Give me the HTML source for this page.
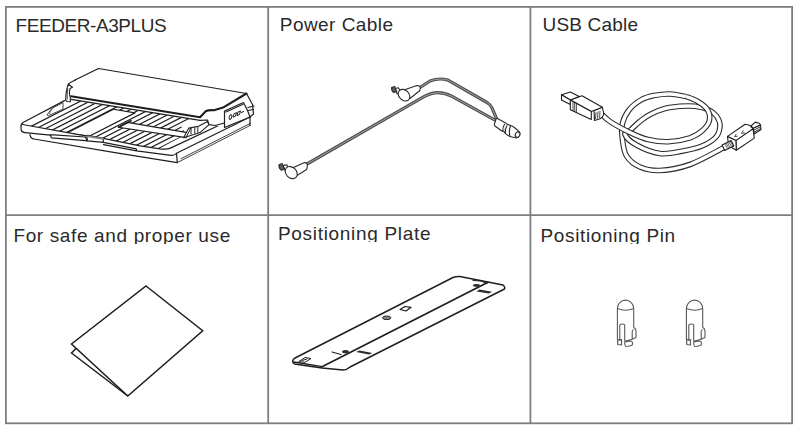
<!DOCTYPE html>
<html><head><meta charset="utf-8">
<style>
html,body{margin:0;padding:0;background:#fff;width:800px;height:430px;overflow:hidden;position:relative}
.t{position:absolute;font-family:"Liberation Sans",sans-serif;font-size:19px;line-height:19px;color:#2a2a2a;white-space:nowrap}
svg{position:absolute;left:0;top:0}
</style></head><body>
<svg width="800" height="430" viewBox="0 0 800 430">
<g fill="none" stroke="#7e7e7e" stroke-width="1.8">
<rect x="5.9" y="6.9" width="786.2" height="416.4"/>
<line x1="268.2" y1="6.9" x2="268.2" y2="423.3"/>
<line x1="530.4" y1="6.9" x2="530.4" y2="423.3"/>
<line x1="5.9" y1="215.1" x2="792.1" y2="215.1"/>
</g>
<!-- booklet -->
<g fill="none" stroke="#1e1e1e" stroke-width="1.5" stroke-linejoin="miter">
<path d="M146,286 L202.7,330.7 L127.8,396 L71.5,344 Z"/>
<path d="M76,348.5 L71.5,353 L127.8,396"/>
</g>
<!-- plate -->
<g fill="none" stroke="#1e1e1e" stroke-width="1.45" stroke-linejoin="round" stroke-linecap="round">
<path d="M453,277.5 Q456.5,276.2 460,276.5 L503,285 Q505.5,287 504.5,289 L350,367 Q347,369.8 343,370 L322,368 L294.5,364 Q292,362 293,360 Q293.8,358.5 295,358 Z"/>
<path d="M294,362 L322,366.6"/><path d="M322,366.8 L488,282.3" stroke-width="1.7"/>
<path d="M299,361.5 L305,357.5 L311,358.5 L305.5,362 Z M302,360.5 L307,359" stroke-width="1"/>
<path d="M332,352 L341,354.5" stroke-width="1.1"/>
<path d="M400,309.5 L405,306.5 L411,307.3 L406,311 Z" stroke-width="1.2"/>
<path d="M473,280.5 L481,281 L487,283.5" stroke-width="1"/>
</g>
<g fill="#2a2a2a" stroke="none">
<ellipse cx="345.5" cy="351.7" rx="3.4" ry="1.6"/>
<path d="M356.1,352 L359.5,350.4 L372.3,353 L369.2,354.4 Z"/>
<ellipse cx="476.5" cy="285.4" rx="3.4" ry="1.4"/>
<path d="M476.5,291.5 L479.5,289.6 L492,291.8 L489,293.6 Z"/>
</g>
<ellipse cx="386.7" cy="317.8" rx="4.2" ry="1.8" fill="#8a8a8a" stroke="#1e1e1e" stroke-width="1"/>
<!-- pins -->
<g fill="none" stroke="#5a5a5a" stroke-width="1.1" stroke-linejoin="round">
<path d="M617.4,339.5 L617.4,308.3 A8.15,8.15 0 0 1 633.7,308.3 L633.7,327.2"/>
<path d="M617.6,308.6 Q625.6,311.8 633.5,308.6"/>
<path d="M619.8,341 L619.8,325.5 Q619.8,324 622.2,324 Q624.7,324 624.7,325.5 L624.7,341.2"/>
<path d="M633.6,327.2 Q636,328.5 636,331 L636,337.5 L632.2,339.3 L632.2,331.5 Q632.5,330 633.6,329.5"/>
<path d="M617.6,339.5 L617.8,344.5 L621.5,345 L621.5,339.6 Z" stroke-width="1.2"/>
<path d="M624.8,342 L630.5,341 Q632.8,341.5 632.6,343.8 L632,345.3 Q628,346.8 625.5,346.3 Q624.2,344.5 624.8,342 Z M624.7,341.2 L632.2,339.3"/>
</g>
<g transform="translate(69,0)" fill="none" stroke="#5a5a5a" stroke-width="1.1" stroke-linejoin="round">
<path d="M617.4,339.5 L617.4,308.3 A8.15,8.15 0 0 1 633.7,308.3 L633.7,327.2"/>
<path d="M617.6,308.6 Q625.6,311.8 633.5,308.6"/>
<path d="M619.8,341 L619.8,325.5 Q619.8,324 622.2,324 Q624.7,324 624.7,325.5 L624.7,341.2"/>
<path d="M633.6,327.2 Q636,328.5 636,331 L636,337.5 L632.2,339.3 L632.2,331.5 Q632.5,330 633.6,329.5"/>
<path d="M617.6,339.5 L617.8,344.5 L621.5,345 L621.5,339.6 Z" stroke-width="1.2"/>
<path d="M624.8,342 L630.5,341 Q632.8,341.5 632.6,343.8 L632,345.3 Q628,346.8 625.5,346.3 Q624.2,344.5 624.8,342 Z M624.7,341.2 L632.2,339.3"/>
</g>
<!-- power cable -->
<g fill="none" stroke-linecap="round" stroke-linejoin="round">
<path d="M307,164 L424,96.7 Q438,88.7 452,96.4 L495,120.2" stroke="#505050" stroke-width="3.2"/>
<path d="M307,164 L424,96.7 Q438,88.7 452,96.4 L495,120.2" stroke="#a0a0a0" stroke-width="1"/>
<path d="M420,87.5 L430,81 Q439,77.5 448,80.1 L487,102.5 Q491,105 492,108 L496.5,118.5" stroke="#505050" stroke-width="3.2"/>
<path d="M420,87.5 L430,81 Q439,77.5 448,80.1 L487,102.5 Q491,105 492,108 L496.5,118.5" stroke="#a0a0a0" stroke-width="1"/>
</g>
<g fill="#fff" stroke="#2a2a2a" stroke-width="1.1" stroke-linejoin="round">
<!-- right connector -->
<path d="M497,118.3 L506.5,123.6 Q508,124.6 507.2,126 L504,130.8 Q503,131.8 501.8,131 L495,126 Q493.8,125 494.6,123.6 L496,119 Z"/>
<path d="M507,124.4 Q512.5,125.5 515,128 L519.5,131.8 Q520.5,136.5 516.5,138 L512,137 Q506.5,136 503.6,131"/>
<path d="M504.6,124 Q502.6,127.5 502.8,131" fill="none"/>
<path d="M507,125.5 Q505,128.5 505.3,133.5" fill="none"/>
<path d="M510.5,126 Q508.5,131 510,136.6" fill="none"/>
<ellipse cx="517.6" cy="134.6" rx="2.2" ry="2.8" transform="rotate(30 517.6 134.6)"/>
<!-- left connector -->
<path d="M293,167.8 L304.5,162.6 Q307.5,162.5 307.3,165.5 L307,168.5 Q306.5,170 305,170.5 L297,175.5 Z"/>
<path d="M283,165.6 L286.8,164.8 L289,170 L285.5,171.5 Z"/>
<path d="M279,164.8 L282.2,163.6 L284.6,169 L281.4,170.2 Q278.6,168.4 279,164.8 Z" fill="#5a5a5a"/>
<ellipse cx="291.2" cy="172.6" rx="6.8" ry="5.2" transform="rotate(45 291.2 172.6)"/>
<!-- upper connector -->
<path d="M404.5,89.8 L417,85.5 Q420.5,85.5 420.3,88.5 L420,90 Q419.6,91.5 418,92 L410,98.5 Z"/>
<path d="M395,88.5 L398.5,87.8 L400.8,92.8 L397.2,94 Z"/>
<path d="M391.6,87.4 L394.6,86.4 L396.8,91.6 L393.6,92.6 Q391.2,90.8 391.6,87.4 Z" fill="#5a5a5a"/>
<ellipse cx="404" cy="95.2" rx="6.6" ry="5" transform="rotate(45 404 95.2)"/>
</g>
<!-- usb cable -->
<g fill="none" stroke-linecap="butt" stroke-linejoin="round">
<path d="M686.0,96.5 C683.3,96.1 675.3,94.2 670.0,94.0 C664.7,93.8 658.7,94.6 654.0,95.5 C649.3,96.4 645.8,97.2 641.6,99.6 C637.4,102.0 632.2,105.9 629.0,110.0 C625.8,114.1 623.4,119.0 622.3,124.0 C621.2,129.0 621.8,134.7 622.5,140.0 C623.2,145.3 623.7,151.5 626.6,156.0 C629.5,160.5 634.4,164.6 640.0,167.0 C645.6,169.4 651.7,170.9 660.0,170.5 C668.3,170.1 679.3,168.3 690.0,164.5 C700.7,160.7 718.3,150.3 724.0,147.5" stroke="#2a2a2a" stroke-width="5.6"/><path d="M686.0,96.5 C683.3,96.1 675.3,94.2 670.0,94.0 C664.7,93.8 658.7,94.6 654.0,95.5 C649.3,96.4 645.8,97.2 641.6,99.6 C637.4,102.0 632.2,105.9 629.0,110.0 C625.8,114.1 623.4,119.0 622.3,124.0 C621.2,129.0 621.8,134.7 622.5,140.0 C623.2,145.3 623.7,151.5 626.6,156.0 C629.5,160.5 634.4,164.6 640.0,167.0 C645.6,169.4 651.7,170.9 660.0,170.5 C668.3,170.1 679.3,168.3 690.0,164.5 C700.7,160.7 718.3,150.3 724.0,147.5" stroke="#fff" stroke-width="3.4"/>
<path d="M680.0,106.3 C685.0,105.9 690.2,105.7 695.0,106.3 C699.8,106.9 705.4,108.4 709.0,110.0 C712.6,111.6 714.7,113.4 716.5,116.0 C718.3,118.6 720.1,122.0 720.0,125.5 C719.9,129.0 719.0,133.6 716.0,137.0 C713.0,140.4 707.7,143.6 702.0,146.0 C696.3,148.4 689.0,149.9 682.0,151.2 C675.0,152.4 667.6,154.5 660.0,153.5 C652.4,152.5 642.3,148.2 636.5,145.0 C630.7,141.8 625.9,137.1 625.0,134.5 C624.1,131.9 628.5,131.7 631.0,129.5 C633.5,127.3 636.8,123.8 640.0,121.3 C643.2,118.8 645.8,116.5 650.0,114.4 C654.2,112.3 660.0,109.8 665.0,108.5 C670.0,107.2 675.0,106.7 680.0,106.3Z" stroke="#2a2a2a" stroke-width="5.6"/><path d="M680.0,106.3 C685.0,105.9 690.2,105.7 695.0,106.3 C699.8,106.9 705.4,108.4 709.0,110.0 C712.6,111.6 714.7,113.4 716.5,116.0 C718.3,118.6 720.1,122.0 720.0,125.5 C719.9,129.0 719.0,133.6 716.0,137.0 C713.0,140.4 707.7,143.6 702.0,146.0 C696.3,148.4 689.0,149.9 682.0,151.2 C675.0,152.4 667.6,154.5 660.0,153.5 C652.4,152.5 642.3,148.2 636.5,145.0 C630.7,141.8 625.9,137.1 625.0,134.5 C624.1,131.9 628.5,131.7 631.0,129.5 C633.5,127.3 636.8,123.8 640.0,121.3 C643.2,118.8 645.8,116.5 650.0,114.4 C654.2,112.3 660.0,109.8 665.0,108.5 C670.0,107.2 675.0,106.7 680.0,106.3Z" stroke="#fff" stroke-width="3.4"/>
<path d="M601.0,113.5 C602.5,114.8 605.2,118.3 610.0,121.5 C614.8,124.7 623.7,129.5 630.0,132.5 C636.3,135.5 641.7,138.0 648.0,139.5 C654.3,141.0 661.0,142.0 668.0,141.8 C675.0,141.5 684.2,139.7 690.0,137.8 C695.8,135.8 699.8,133.0 703.0,130.0 C706.2,127.0 708.8,123.5 709.5,120.0 C710.2,116.5 709.1,112.2 707.0,109.0 C704.9,105.8 700.5,103.1 697.0,101.0 C693.5,98.9 687.8,97.2 686.0,96.5" stroke="#2a2a2a" stroke-width="5.6"/><path d="M601.0,113.5 C602.5,114.8 605.2,118.3 610.0,121.5 C614.8,124.7 623.7,129.5 630.0,132.5 C636.3,135.5 641.7,138.0 648.0,139.5 C654.3,141.0 661.0,142.0 668.0,141.8 C675.0,141.5 684.2,139.7 690.0,137.8 C695.8,135.8 699.8,133.0 703.0,130.0 C706.2,127.0 708.8,123.5 709.5,120.0 C710.2,116.5 709.1,112.2 707.0,109.0 C704.9,105.8 700.5,103.1 697.0,101.0 C693.5,98.9 687.8,97.2 686.0,96.5" stroke="#fff" stroke-width="3.4"/>
</g>
<g fill="#fff" stroke="#1e1e1e" stroke-width="1.1" stroke-linejoin="round">
<!-- usb A -->
<path d="M594,110.5 L602.4,107.3 L603.6,113 Q604,116.5 600,118.8 L594.5,120.5 Z"/>
<path d="M596,112.3 L595.5,119 M598,111.5 L597.5,118.6 M600,110.7 L599.6,118" fill="none" stroke-width="0.8"/>
<path d="M570.3,99.9 L582,95.7 L602.4,107.3 L591.3,111.5 Z"/>
<path d="M570.3,99.9 L570.3,109.7 L591.3,119.4 L591.3,111.5 Z"/>
<path d="M573,101.3 L573,111 M574.7,102 L574.7,111.8 M576.4,102.7 L576.4,112.6" fill="none" stroke-width="0.8"/>
<path d="M561.5,94.8 L570.3,92 L579.2,96.6 L570.3,99.9 Z"/>
<path d="M561.5,94.8 L561.5,99.9 L570.3,104.5 L570.3,99.9 Z"/>
<!-- usb B -->
<path d="M750.9,126 L755.3,122.1 L759.2,123.2 L760.5,125 L753.4,128.3 Z"/>
<path d="M753.4,128.3 L760.5,125 L761,129.5 L754.2,134 Z"/>
<path d="M753.6,130.4 L760.4,126.7 M753.9,132.3 L760.7,128.5" fill="none" stroke-width="0.9"/>
<path d="M727.5,136.4 L745.1,124.3 L749.5,125.2 L753,128.9 L735.9,140.6 Z"/>
<path d="M735.9,140.6 L753,128.9 L754.3,138.1 L736.3,150.2 Z"/>
<path d="M727.5,136.4 L735.9,140.6 L736.3,150.2 L728.6,145.8 Z"/>
<path d="M736.2,134 L734.6,136.6 L737.6,136.2 M743.4,130.4 L741.6,133.4 L745,132.8" fill="none" stroke-width="0.8"/>
<path d="M722.1,145.1 L731.2,140.5 L733.8,145.9 L724.7,150.5Z"/>
<path d="M724.8,143.7 L727.5,149.1 M726.2,143.0 L728.8,148.4 M727.5,142.4 L730.2,147.7 M728.9,141.7 L731.6,147.0 M730.2,141.0 L732.9,146.3" fill="none" stroke="#444" stroke-width="0.8"/>
</g>
<!-- feeder -->
<clipPath id="hc"><path d="M20.00,124.60 L63.50,101.30 L71.00,99.40 L193.60,119.40 L181.00,126.00 L186.00,134.50 L161.00,147.80 L160.00,148.90 L140.00,145.80 L103.30,138.30 L87.00,135.80 L80.00,134.90 L22.50,124.50Z"/></clipPath>
<g clip-path="url(#hc)"><path d="M0,142.20 L260,9.60 M0,147.04 L260,14.44 M0,151.88 L260,19.28 M0,156.72 L260,24.12 M0,161.56 L260,28.96 M0,166.40 L260,33.80 M0,171.24 L260,38.64 M0,176.08 L260,43.48 M0,180.92 L260,48.32 M0,185.76 L260,53.16 M0,190.60 L260,58.00 M0,195.44 L260,62.84 M0,200.28 L260,67.68 M0,205.12 L260,72.52 M0,209.96 L260,77.36 M0,214.80 L260,82.20 M0,219.64 L260,87.04 M0,224.48 L260,91.88 M0,229.32 L260,96.72 M0,234.16 L260,101.56 M0,239.00 L260,106.40 M0,243.84 L260,111.24" stroke="#1e1e1e" stroke-width="1.2" fill="none"/></g>
<g fill="#fff" stroke="#1e1e1e" stroke-width="1.2" stroke-linejoin="round" stroke-linecap="round">
<path d="M113.46,109.24 L135.00,112.90 L90.16,135.77 L68.51,132.16Z" stroke="none"/>
<path d="M68.51,132.16 L113.46,109.24 L135.00,112.90 L90.16,135.77" fill="none"/>
<path d="M127.50,122.40 L186.00,132.35 L186.00,137.60 L118.50,127.25Z" stroke="none"/>
<path d="M186.00,132.35 L127.50,122.40 L118.50,127.25 L186.00,137.70" fill="none"/>
<path d="M118.6,127.2 L131,120.8" fill="none" stroke-width="1.7"/>
</g>
<g fill="none" stroke="#1e1e1e" stroke-width="1.2" stroke-linejoin="round" stroke-linecap="round">
<path d="M64.5,100.6 L23.5,122.3 Q20.6,124 21,126.5 L21.2,130.2 Q21.6,132.4 25,132.6 L50.2,135.1"/>
<path d="M22.5,124.5 L80,134.9 L87,135.8 M103.3,138.3 L140,145.8 L160,148.9 Q167,149.8 171,147.9 L224.5,122.8"/>
<path d="M87,135.3 L87.2,140.8 L103.3,142.4 L103.3,138.3 Z" fill="#fff"/><path d="M87.5,136.3 L103,138.9" stroke="#8a8a8a" stroke-width="1.8"/>
<path d="M103.3,142.4 L136.3,148.8 L136.6,150.8 L171,155.3 Q175,155.6 176.5,153.2 L250,117 M103.5,144.6 L136.6,150.8"/>
<path d="M50.2,134.6 L85.4,137 L87.2,140.8 M51.4,137.8 L85.6,140.6 L87.2,140.8 M50.2,134.6 L51.4,137.8"/>
<path d="M30,134.6 Q30.5,138.6 34,139 L115,152.7 L177.3,162.6 M176.5,153.4 L177.3,162.6 M250,117 L250,125.5"/>
<path d="M177.3,162.6 L250,125.5 M181,158.7 L250,123.5" stroke-width="0.85"/>
</g>
<path d="M47,115 L51.5,108.6 L63,102.6 L63,109.2 L48.5,115.6 Z" fill="#fff" stroke="#333" stroke-width="0.9" stroke-linejoin="round"/>
<path d="M49.2,114 L52.6,108.3" fill="none" stroke="#555" stroke-width="0.8"/>
<path d="M183.6,137.8 L188.8,128.1 L198.5,126.3 L207.5,121.6 L209,124.7 L200,132.6 Z" fill="#fff" stroke="#1e1e1e" stroke-width="1.1" stroke-linejoin="round"/>
<path d="M186,137.5 L191,127.8 M191,127.5 L191,134.5 M194.8,126.9 L194.8,133.6 M197.8,126.4 L197.8,132.8" fill="none" stroke="#1e1e1e" stroke-width="1"/>
<path d="M98.50,68.50 L246.50,93.50 L252.50,104.50 L253.50,114.00 L250.00,117.00 L224.50,127.50 L215.00,125.50 L209.00,124.70 L207.50,120.00 L200.00,120.30 L71.00,99.40 L68.30,84.20 L75.50,80.00Z" fill="#fff" stroke="none"/>
<g fill="none" stroke="#1e1e1e" stroke-width="1.2" stroke-linejoin="round" stroke-linecap="round">
<path d="M75,80 L98.5,68.5 L246.5,93.5 L252.5,104.5 L253.5,114 L250,117"/>
<path d="M75.5,80 Q69.6,82.6 68.3,84.2"/>
<path d="M71,99.4 L200,120.3 L207.5,120 L209,124.7 L215,125.5 L224.5,123"/>
<path d="M224.5,111 L243.5,102.5 L247.5,110.5 L250,117 L224.5,127.5 Z"/>
<path d="M226,112 L243,104.2"/>
<path d="M248,107.5 L254,106 M247.5,110.5 L253.5,109.5"/>
</g>
<path d="M71,96.2 L200,117.3 L206,111 Q208,110 214,110.2 L223,107.6 L246.5,93.5" fill="none" stroke="#1e1e1e" stroke-width="2.1" stroke-linejoin="round" stroke-linecap="round"/>
<path d="M68.3,84.2 Q66,90 65.6,100 L67,101.5 L70.4,101.8 L70.2,97 Q68.6,94 70.1,88.5 L72.5,87.3 Z" fill="#fff" stroke="#1e1e1e" stroke-width="1.1" stroke-linejoin="round"/>
<path d="M67.8,88 Q66.9,94 67.3,99.5" fill="none" stroke="#1e1e1e" stroke-width="0.8"/>
<path d="M229.5,119.5 Q228.5,117.5 230,115 Q231.5,113.5 232,116 L231,119 Z M233,117.2 L234,113.7 L236.5,112.6 L235.5,116.2 Z M237,115.6 L238,112 L240.5,110.9 L239.5,114.6 Z M241,112.6 L244,111.4" fill="none" stroke="#1e1e1e" stroke-width="1"/>
</svg>
<div class="t" style="left:15.5px;top:16px;letter-spacing:-0.42px">FEEDER-A3PLUS</div>
<div class="t" style="left:279.8px;top:15px;letter-spacing:0.45px">Power Cable</div>
<div class="t" style="left:542.5px;top:15px;letter-spacing:0.19px">USB Cable</div>
<div class="t" style="left:13.4px;top:226px;letter-spacing:0.64px;height:17.5px;overflow:hidden;padding-right:2px">For safe and proper use</div>
<div class="t" style="left:278px;top:224px;letter-spacing:0.69px;height:17.8px;overflow:hidden;padding-right:2px">Positioning Plate</div>
<div class="t" style="left:540.5px;top:226px;letter-spacing:0.64px;height:17.5px;overflow:hidden;padding-right:2px">Positioning Pin</div>
</body></html>
